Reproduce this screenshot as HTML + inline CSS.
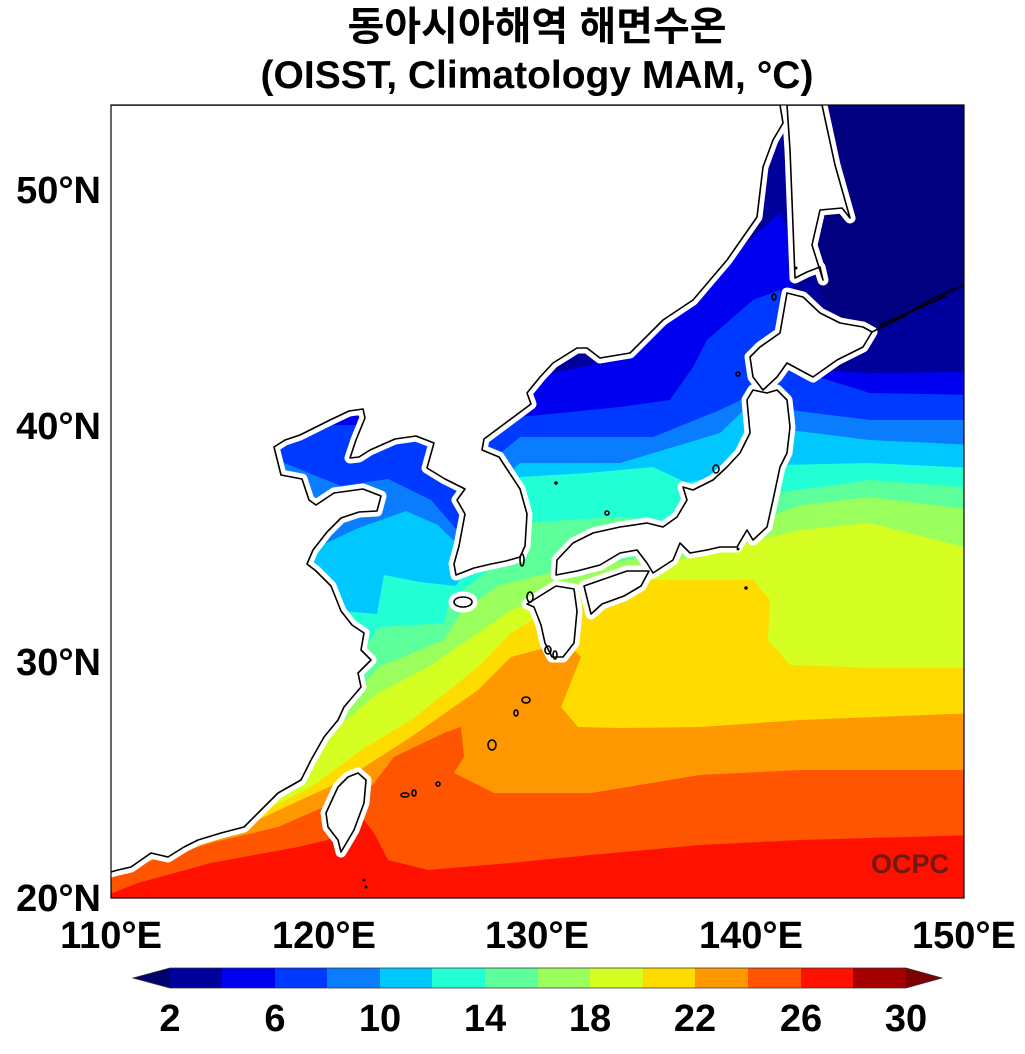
<!DOCTYPE html>
<html><head><meta charset="utf-8"><style>
html,body{margin:0;padding:0;background:#fff;}
body{width:1025px;height:1049px;overflow:hidden;}
</style></head><body>
<svg width="1025" height="1049" viewBox="0 0 1025 1049" xmlns="http://www.w3.org/2000/svg" font-family="Liberation Sans, 'Noto Sans CJK KR', NanumGothic, sans-serif" font-weight="bold">
<defs><clipPath id="mc"><rect x="111" y="105" width="853" height="793"/></clipPath></defs>
<text x="537" y="40" font-size="40" text-anchor="middle" font-family="Liberation Sans, 'Noto Sans CJK KR', sans-serif">동아시아해역 해면수온</text>
<text x="537" y="88" font-size="39" text-anchor="middle">(OISST, Climatology MAM, °C)</text>
<g clip-path="url(#mc)">
<rect x="100" y="100" width="880" height="800" fill="#ff1100"/>
<polygon fill="#ff5400" points="100,898 138,883 211,863 298,847 328,840 350,825 364,820 374,833 388,860 428,870 511,863 591,855 700,845 800,840 975,835 975,100 100,100"/>
<polygon fill="#ff9800" points="100,875 131,867 211,843 278,827 324,807 371,787 394,757 444,733 461,727 464,757 454,773 494,793 591,793 700,775 800,770 975,770 975,100 100,100"/>
<polygon fill="#ffdc00" points="100,870 200,845 264,817 344,780 411,737 478,690 511,657 545,648 571,647 581,657 561,707 578,727 620,728 700,727 800,720 975,713 975,100 100,100"/>
<polygon fill="#d5ff22" points="100,865 250,818 311,787 361,750 411,720 478,667 511,633 544,613 577,607 653,580 753,580 770,600 768,640 790,665 880,668 975,668 975,100 100,100"/>
<polygon fill="#9aff5c" points="100,860 300,770 331,733 378,693 428,667 478,633 511,610 538,600 560,590 600,575 680,560 740,545 800,530 870,523 975,550 975,100 100,100"/>
<polygon fill="#5cff9a" points="100,850 300,740 344,710 378,667 444,640 461,613 478,600 500,585 540,575 600,565 680,550 760,520 800,505 870,497 975,510 975,100 100,100"/>
<polygon fill="#22ffd5" points="100,800 320,700 364,650 378,627 444,623 450,600 470,585 500,560 520,523 620,517 653,520 700,530 760,495 870,480 975,488 975,100 100,100"/>
<polygon fill="#00c8ff" points="100,700 300,615 341,611 377,614 384,575 420,582 456,586 480,540 520,477 587,473 653,467 687,483 720,475 780,465 870,463 975,468 975,100 100,100"/>
<polygon fill="#0a7dff" points="100,600 300,560 320,546 356,529 406,511 438,525 459,546 480,500 520,463 620,463 720,433 747,407 790,430 870,440 975,445 975,100 100,100"/>
<polygon fill="#0039ff" points="100,470 277,460 341,486 388,479 431,500 456,529 480,470 520,437 653,437 720,410 747,397 790,410 870,420 975,420 975,100 100,100"/>
<polygon fill="#0000f0" points="100,425 400,425 480,420 520,417 620,407 670,400 693,367 707,340 753,300 780,290 795,370 870,393 975,395 975,100 100,100"/>
<polygon fill="#00009c" points="100,380 520,380 600,363 653,330 720,267 780,213 790,240 800,370 870,373 975,372 975,100 100,100"/>
<polygon fill="#000080" points="100,100 790,100 800,140 810,250 830,330 870,335 975,283 975,100"/>
<g fill="#fff" stroke="#fff" stroke-width="11" stroke-linejoin="round">
<polygon points="111,105 780,105 783,123 773,140 763,167 757,217 727,260 693,300 663,320 630,353 600,358 587,348 577,348 553,363 540,377 527,393 531,404 484,439 482,450 499,457 520,489 527,514 525,546 520,557 506,561 491,564 474,568 456,575 454,564 459,546 465,514 457,500 465,489 445,479 427,468 434,443 416,436 395,439 370,450 359,457 350,458 356,440 365,418 363,409 349,411 330,420 300,435 285,440 274,447 281,475 302,479 309,500 316,505 334,493 363,489 381,496 377,511 359,512 341,518 327,532 313,550 307,564 316,571 331,586 341,611 352,625 364,633 361,650 371,660 358,673 361,687 344,707 338,720 324,737 311,760 301,780 278,793 258,813 244,827 221,833 198,840 184,847 168,857 151,853 131,867 118,870 100,875 100,105"/>
<polygon points="787,105 790,150 792,200 795,278 807,272 820,267 823,280 812,245 820,210 842,208 850,218 835,165 822,105"/>
<polygon points="787,293 780,333 760,347 750,357 753,377 763,390 777,377 787,363 813,377 837,360 863,347 872,332 863,327 840,323 820,313 803,297"/>
<polygon points="753,390 767,393 777,390 787,400 790,427 787,453 780,467 773,500 767,527 753,540 747,530 737,547 720,547 707,550 690,553 680,543 673,560 653,573 647,563 637,550 620,553 600,565 577,571 556,575 557,560 573,543 593,533 620,527 647,523 663,527 677,517 687,500 683,487 693,490 713,480 727,467 740,453 750,433 747,400"/>
<polygon points="527,604 556,586 574,589 577,611 574,643 563,657 552,657 545,643 541,625 534,607"/>
<polygon points="584,586 627,571 649,571 641,586 624,596 602,604 591,614"/>
<polygon points="358,773 366,780 364,803 354,830 341,852 338,840 328,827 326,813 338,787 348,777"/>
<ellipse cx="463" cy="602" rx="9" ry="5"/>
</g>
<g fill="none" stroke="#000" stroke-width="1.6" stroke-linejoin="round">
<polygon points="111,105 780,105 783,123 773,140 763,167 757,217 727,260 693,300 663,320 630,353 600,358 587,348 577,348 553,363 540,377 527,393 531,404 484,439 482,450 499,457 520,489 527,514 525,546 520,557 506,561 491,564 474,568 456,575 454,564 459,546 465,514 457,500 465,489 445,479 427,468 434,443 416,436 395,439 370,450 359,457 350,458 356,440 365,418 363,409 349,411 330,420 300,435 285,440 274,447 281,475 302,479 309,500 316,505 334,493 363,489 381,496 377,511 359,512 341,518 327,532 313,550 307,564 316,571 331,586 341,611 352,625 364,633 361,650 371,660 358,673 361,687 344,707 338,720 324,737 311,760 301,780 278,793 258,813 244,827 221,833 198,840 184,847 168,857 151,853 131,867 118,870 100,875 100,105"/>
<polygon points="787,105 790,150 792,200 795,278 807,272 820,267 823,280 812,245 820,210 842,208 850,218 835,165 822,105"/>
<polygon points="787,293 780,333 760,347 750,357 753,377 763,390 777,377 787,363 813,377 837,360 863,347 872,332 863,327 840,323 820,313 803,297"/>
<polygon points="753,390 767,393 777,390 787,400 790,427 787,453 780,467 773,500 767,527 753,540 747,530 737,547 720,547 707,550 690,553 680,543 673,560 653,573 647,563 637,550 620,553 600,565 577,571 556,575 557,560 573,543 593,533 620,527 647,523 663,527 677,517 687,500 683,487 693,490 713,480 727,467 740,453 750,433 747,400"/>
<polygon points="527,604 556,586 574,589 577,611 574,643 563,657 552,657 545,643 541,625 534,607"/>
<polygon points="584,586 627,571 649,571 641,586 624,596 602,604 591,614"/>
<polygon points="358,773 366,780 364,803 354,830 341,852 338,840 328,827 326,813 338,787 348,777"/>
<ellipse cx="463" cy="602" rx="9" ry="5"/>
<polyline points="872,332 900,318 930,300 964,285"/>
<polyline points="880,325 910,312 945,296"/>
<ellipse cx="548" cy="650" rx="3" ry="4"/>
<ellipse cx="555" cy="655" rx="2" ry="4"/>
<ellipse cx="526" cy="700" rx="4" ry="3"/>
<ellipse cx="516" cy="713" rx="2" ry="3"/>
<ellipse cx="492" cy="745" rx="4" ry="5"/>
<ellipse cx="405" cy="795" rx="4" ry="2"/>
<ellipse cx="414" cy="793" rx="2" ry="3"/>
<ellipse cx="438" cy="784" rx="2" ry="2"/>
<ellipse cx="522" cy="560" rx="2" ry="6"/>
<ellipse cx="530" cy="597" rx="3" ry="5"/>
<ellipse cx="607" cy="513" rx="2" ry="2"/>
<ellipse cx="716" cy="469" rx="3" ry="4"/>
<ellipse cx="774" cy="297" rx="2" ry="3"/>
<ellipse cx="738" cy="374" rx="2" ry="2"/>
</g>
<g fill="#000">
<circle cx="556" cy="483" r="1.8"/><circle cx="746" cy="588" r="1.8"/><circle cx="796" cy="268" r="1.5"/><circle cx="738" cy="549" r="1.5"/><circle cx="364" cy="880" r="1.5"/><circle cx="366" cy="887" r="1.5"/>
</g>
<text x="910" y="873" font-size="27" fill="#5a1a14" text-anchor="middle" opacity="0.85">OCPC</text>
</g>
<rect x="111" y="105" width="853" height="793" fill="none" stroke="#000" stroke-width="1.2"/>
<g font-size="38" fill="#000">
<text x="101" y="203" text-anchor="end">50°N</text>
<text x="101" y="439" text-anchor="end">40°N</text>
<text x="101" y="675" text-anchor="end">30°N</text>
<text x="101" y="911" text-anchor="end">20°N</text>
<text x="111" y="948" text-anchor="middle">110°E</text>
<text x="324" y="948" text-anchor="middle">120°E</text>
<text x="537" y="948" text-anchor="middle">130°E</text>
<text x="751" y="948" text-anchor="middle">140°E</text>
<text x="964" y="948" text-anchor="middle">150°E</text>
</g>
<g>
<polygon points="133,978 170,968 170,988" fill="#00006e"/>
<rect x="170" y="968" width="53" height="20" fill="#00009c"/>
<rect x="222" y="968" width="53" height="20" fill="#0000f0"/>
<rect x="275" y="968" width="53" height="20" fill="#0039ff"/>
<rect x="327" y="968" width="53" height="20" fill="#0a7dff"/>
<rect x="380" y="968" width="53" height="20" fill="#00c8ff"/>
<rect x="432" y="968" width="53" height="20" fill="#22ffd5"/>
<rect x="485" y="968" width="53" height="20" fill="#5cff9a"/>
<rect x="538" y="968" width="53" height="20" fill="#9aff5c"/>
<rect x="590" y="968" width="53" height="20" fill="#d5ff22"/>
<rect x="643" y="968" width="53" height="20" fill="#ffdc00"/>
<rect x="695" y="968" width="53" height="20" fill="#ff9800"/>
<rect x="748" y="968" width="53" height="20" fill="#ff5400"/>
<rect x="801" y="968" width="53" height="20" fill="#ff1100"/>
<rect x="853" y="968" width="53" height="20" fill="#a40000"/>
<polygon points="906,968 942,978 906,988" fill="#7f0000"/>
<polygon points="133,978 170,968 906,968 942,978 906,988 170,988" fill="none" stroke="#333" stroke-width="0.8"/>
</g>
<g font-size="38" fill="#000" text-anchor="middle">
<text x="170" y="1031">2</text><text x="275" y="1031">6</text><text x="380" y="1031">10</text><text x="485" y="1031">14</text><text x="590" y="1031">18</text><text x="695" y="1031">22</text><text x="801" y="1031">26</text><text x="906" y="1031">30</text>
</g>
</svg>
</body></html>
